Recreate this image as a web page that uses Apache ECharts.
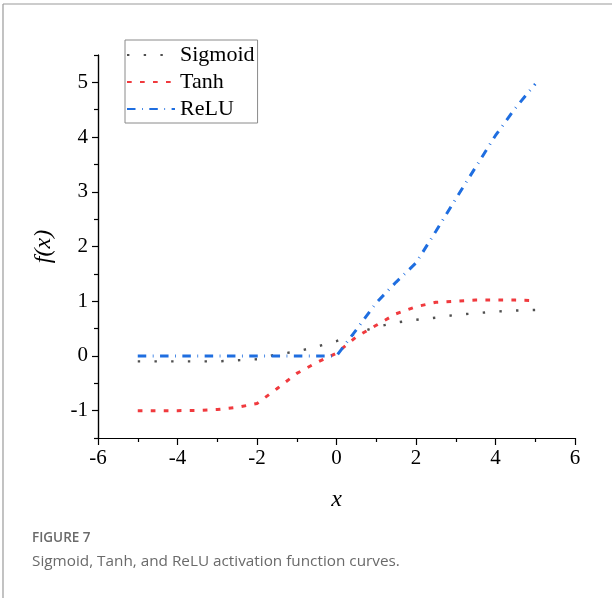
<!DOCTYPE html>
<html>
<head>
<meta charset="utf-8">
<script src="https://cdn.jsdelivr.net/npm/echarts/dist/echarts.min.js"></script>
<style>
  html, body { margin: 0; padding: 0; background: #fff; }
  #chart { width: 612px; height: 598px; }
</style>
</head>
<body>
<div id="chart"></div>
<script>
// Sample positions on the x axis
const xs = [-5, -4.5, -4, -3.5, -3, -2.5, -2, -1.5, -1, -0.5, 0, 0.5, 1, 1.5, 2, 2.5, 3, 3.5, 4, 4.5, 5];

// Curve values at each sample position
const sigmoidVals = [-0.10, -0.10, -0.10, -0.10, -0.10, -0.08, -0.06, 0.03, 0.08, 0.17, 0.27, 0.41, 0.53, 0.61, 0.66, 0.70, 0.75, 0.78, 0.81, 0.83, 0.84];
const tanhVals = [-1.00, -1.00, -1.00, -0.995, -0.98, -0.94, -0.87, -0.60, -0.32, -0.12, 0.05, 0.35, 0.56, 0.77, 0.90, 0.98, 1.00, 1.02, 1.02, 1.02, 1.01];
const reluVals = [0, 0, 0, 0, 0, 0, 0, 0, 0, 0, 0, 0.48, 0.97, 1.35, 1.70, 2.28, 2.87, 3.45, 4.03, 4.53, 4.97];

const seriesNames = ['Sigmoid', 'Tanh', 'ReLU'];

// Axis ticks
const yMajorTicks = [-1, 0, 1, 2, 3, 4, 5];
const yMinorTicks = [-1.5, -0.5, 0.5, 1.5, 2.5, 3.5, 4.5, 5.5];

const pairs = vals => xs.map((x, i) => [x, vals[i]]);

const serif = '"Liberation Serif", "Times New Roman", serif';
const sans = '"Open Sans", "Noto Sans", sans-serif';

const chart = echarts.init(document.getElementById('chart'), null, { renderer: 'canvas' });

const commonY = {
  type: 'value',
  min: -1.5,
  max: 5.5,
  position: 'left',
  splitLine: { show: false },
  axisLine: { show: true, onZero: false, lineStyle: { color: '#000', width: 1.2 } }
};

chart.setOption({
  animation: false,
  backgroundColor: '#fff',
  grid: { left: 98, top: 55, width: 477, height: 383, containLabel: false },
  legend: {
    orient: 'vertical',
    left: 125,
    top: 40,
    data: seriesNames,
    itemWidth: 48,
    itemHeight: 14,
    itemGap: 5,
    padding: [4, 3, 3, 1],
    borderColor: '#8a8a8a',
    borderWidth: 1,
    backgroundColor: '#fff',
    itemStyle: { opacity: 0 },
    textStyle: { fontFamily: serif, fontSize: 22, color: '#000', padding: [0, 0, 0, 0] }
  },
  xAxis: {
    type: 'value',
    min: -6,
    max: 6,
    interval: 2,
    name: 'x',
    nameLocation: 'middle',
    nameGap: 50,
    nameTextStyle: { fontFamily: serif, fontSize: 24, fontStyle: 'italic', color: '#000' },
    axisLine: { show: true, onZero: false, lineStyle: { color: '#000', width: 1.2 } },
    axisTick: { show: true, inside: false, length: 7, lineStyle: { color: '#000', width: 1.2 } },
    minorTick: { show: true, splitNumber: 2, length: 4, lineStyle: { color: '#000', width: 1.2 } },
    splitLine: { show: false },
    minorSplitLine: { show: false },
    axisLabel: {
      margin: 10,
      fontFamily: serif, fontSize: 21, color: '#000',
      formatter: v => String(v).replace('\u2212', '-')
    }
  },
  yAxis: [
    Object.assign({}, commonY, {
      name: 'f(x)',
      nameLocation: 'middle',
      nameRotate: 90,
      nameGap: 42,
      nameTextStyle: { fontFamily: serif, fontSize: 24, fontStyle: 'italic', color: '#000' },
      axisTick: { show: true, length: 6, customValues: yMajorTicks, lineStyle: { color: '#000', width: 1.2 } },
      axisLabel: {
        customValues: yMajorTicks,
        margin: 10,
        fontFamily: serif, fontSize: 21, color: '#000',
        formatter: v => String(v)
      }
    }),
    Object.assign({}, commonY, {
      axisTick: { show: true, length: 4, customValues: yMinorTicks, lineStyle: { color: '#000', width: 1.2 } },
      axisLabel: { show: false }
    })
  ],
  series: [
    {
      name: 'Sigmoid', type: 'line', data: pairs(sigmoidVals),
      symbol: 'none', smooth: false,
      lineStyle: { color: '#505050', width: 2.4, type: [2.4, 14.3], cap: 'butt' },
      itemStyle: { color: '#505050' }
    },
    {
      name: 'Tanh', type: 'line', data: pairs(tanhVals),
      symbol: 'none', smooth: false,
      lineStyle: { color: '#f03a3e', width: 3, type: [4.7, 8.3], cap: 'butt' },
      itemStyle: { color: '#f03a3e' }
    },
    {
      name: 'ReLU', type: 'line', data: pairs(reluVals),
      symbol: 'none', smooth: false,
      lineStyle: { color: '#1f6ee0', width: 3, type: [8.5, 6.5, 0.8, 6.5], cap: 'butt' },
      itemStyle: { color: '#1f6ee0' }
    }
  ],
  graphic: [
    { type: 'line', shape: { x1: 3, y1: 4, x2: 612, y2: 4 }, style: { stroke: '#9a9a9a', lineWidth: 1.2 } },
    { type: 'line', shape: { x1: 3, y1: 4, x2: 3, y2: 598 }, style: { stroke: '#9a9a9a', lineWidth: 1.2 } },
    {
      type: 'text', left: 32, top: 531,
      style: { text: 'FIGURE 7', fill: '#6a6a6a', font: '600 13.5px ' + sans }
    },
    {
      type: 'text', left: 32, top: 554,
      style: { text: 'Sigmoid, Tanh, and ReLU activation function curves.', fill: '#6a6a6a', font: '15.3px ' + sans }
    }
  ]
});
</script>
</body>
</html>
